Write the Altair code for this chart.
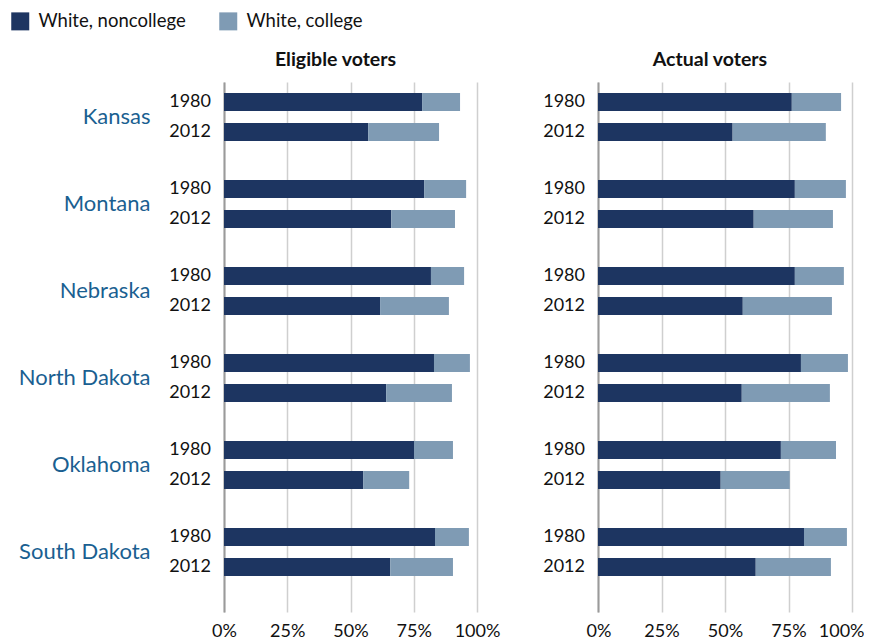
import altair as alt
import pandas as pd

states = ["Kansas", "Montana", "Nebraska", "North Dakota", "Oklahoma", "South Dakota"]
years = ["1980", "2012"]
groups = ["White, noncollege", "White, college"]
colors = ["#1d3561", "#7f9bb4"]

# Eligible voters (share, %), per state: [1980, 2012]
elig_noncollege = [[78.3, 57.0], [79.1, 66.1], [81.8, 61.7], [83.0, 64.1], [75.1, 55.0], [83.4, 65.7]]
elig_college = [[15.0, 28.0], [16.6, 25.2], [13.1, 27.2], [14.2, 26.0], [15.4, 18.2], [13.4, 24.8]]
# Actual voters (share, %)
act_noncollege = [[76.3, 53.0], [77.5, 61.3], [77.5, 57.0], [79.9, 56.6], [72.0, 48.3], [81.1, 62.1]]
act_college = [[19.4, 36.7], [20.1, 31.2], [19.3, 35.1], [18.5, 34.7], [21.7, 27.2], [16.9, 29.6]]

x_ticks = [0, 0.25, 0.5, 0.75, 1.0]
FONT = "Lato"


def make_df(nc, col):
    rows = []
    for i, s in enumerate(states):
        for j, y in enumerate(years):
            rows.append({"state": s, "year": y, "group": groups[0], "ord": 0, "value": nc[i][j] / 100})
            rows.append({"state": s, "year": y, "group": groups[1], "ord": 1, "value": col[i][j] / 100})
    return pd.DataFrame(rows)


year_df = pd.DataFrame([{"state": s, "year": y} for s in states for y in years])

y_scale = alt.Scale(domain=states, paddingInner=0.448, paddingOuter=0.27, align=0.234)
yoff_scale = alt.Scale(domain=years, paddingInner=0.4, paddingOuter=0)


def panel(df, title, width, show_states, legend, flush):
    color = alt.Color(
        "group:N",
        scale=alt.Scale(domain=groups, range=colors),
        legend=alt.Legend(
            orient="none", legendX=-213, legendY=-70, direction="horizontal", columns=2,
            title=None, symbolType="square", symbolSize=324, symbolStrokeWidth=0,
            labelFontSize=18.5, labelFont=FONT, labelColor="#111111", labelOffset=9,
            columnPadding=33,
        ) if legend else None,
    )
    yaxis = alt.Axis(
        title=None, ticks=False, grid=False, domain=True, domainColor="#9a9a9a", domainWidth=2,
        labels=show_states, labelFontSize=22, labelFont=FONT, labelColor="#1a5f91",
        labelPadding=74,
    )
    xaxis_kw = dict(values=x_ticks, format=".0%", title=None, grid=True,
                    gridColor="#cfcfcf", gridWidth=1.5, domain=False, ticks=False,
                    labelFontSize=18, labelFont=FONT, labelColor="#111111",
                    labelPadding=10, labelOverlap=False)
    if flush:
        xaxis_kw.update(labelFlush=True, labelFlushOffset=12)
    else:
        xaxis_kw.update(labelFlush=False)
    bars = alt.Chart(df).mark_bar(size=18).encode(
        x=alt.X("value:Q", stack="zero", scale=alt.Scale(domain=[0, 1], nice=False),
                axis=alt.Axis(**xaxis_kw)),
        y=alt.Y("state:N", sort=states, scale=y_scale, axis=yaxis),
        yOffset=alt.YOffset("year:N", sort=years, scale=yoff_scale),
        color=color,
        order=alt.Order("ord:Q"),
    )
    txt = alt.Chart(year_df).mark_text(align="right", baseline="middle", fontSize=18,
                                       font=FONT, color="#111111").encode(
        x=alt.value(-13),
        y=alt.Y("state:N", sort=states, scale=y_scale, axis=yaxis),
        yOffset=alt.YOffset("year:N", sort=years, scale=yoff_scale),
        text="year:N",
    )
    return alt.layer(bars, txt).properties(
        width=width, height=530,
        title=alt.TitleParams(title, fontSize=19.5, fontWeight="bold", font=FONT,
                              color="#111111", offset=12, dx=-15),
    )


left = panel(make_df(elig_noncollege, elig_college), "Eligible voters", 253, True, True, False)
right = panel(make_df(act_noncollege, act_college), "Actual voters", 254, False, False, True)

chart = alt.hconcat(left, right, spacing=43).properties(
    padding={"left": 3, "top": 4, "right": 0, "bottom": 0}
).configure_view(stroke=None)

chart.save("out.html", embed_options={"renderer": "svg", "actions": False})
